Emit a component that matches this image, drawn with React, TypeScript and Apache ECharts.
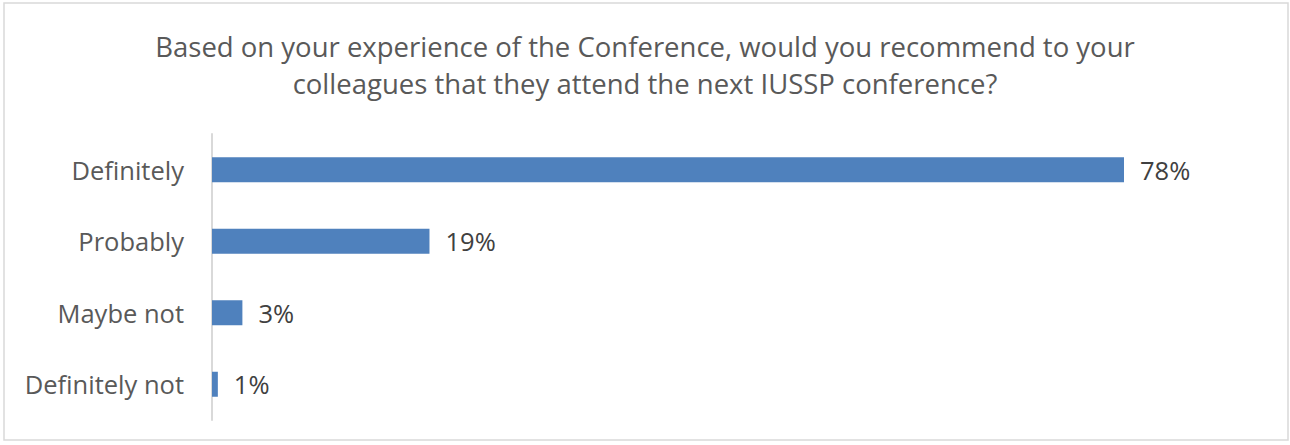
import React, { useEffect, useRef } from "react";
import * as echarts from "echarts";

const titleLines = [
  "Based on your experience of the Conference, would you recommend to your",
  "colleagues that they attend the next IUSSP conference?",
];
const categories = ["Definitely", "Probably", "Maybe not", "Definitely not"];
const values = [78.0, 18.6, 2.6, 0.5];
const axisMax = 80;

const FONT = "Open Sans";

export default function App() {
  const ref = useRef<HTMLDivElement>(null);
  useEffect(() => {
    document.body.style.margin = "0";
    const chart = echarts.init(ref.current!, null, { renderer: "svg" });
    chart.setOption({
      animation: false,
      backgroundColor: "#ffffff",
      title: {
        text: titleLines.join("\n"),
        left: "center",
        top: 23,
        textStyle: {
          fontFamily: FONT,
          fontSize: 27.5,
          fontWeight: "normal",
          color: "#595959",
          lineHeight: 37,
        },
      },
      graphic: [
        {
          type: "rect",
          shape: { x: 4, y: 3, width: 1284, height: 437 },
          style: { fill: "none", stroke: "#d9d9d9", lineWidth: 1.5 },
          silent: true,
        },
      ],
      grid: { left: 212, top: 134, height: 286, right: 1290 - 212 - (912 / 78) * axisMax },
      xAxis: {
        type: "value",
        min: 0,
        max: axisMax,
        show: false,
      },
      yAxis: {
        type: "category",
        data: categories,
        inverse: true,
        axisLine: { show: true, lineStyle: { color: "#d9d9d9", width: 2 } },
        axisTick: { show: false },
        axisLabel: {
          margin: 28,
          fontFamily: FONT,
          fontSize: 25.5,
          color: "#595959",
        },
      },
      series: [
        {
          type: "bar",
          data: values,
          barWidth: 25,
          itemStyle: { color: "#4f81bd" },
          label: {
            show: true,
            position: "right",
            distance: 16,
            fontFamily: FONT,
            fontSize: 25.5,
            color: "#404040",
            formatter: (p: any) => Math.round(p.value) + "%",
          },
        },
      ],
    });
    return () => chart.dispose();
  }, []);
  return <div ref={ref} style={{ width: 1290, height: 445 }} />;
}
